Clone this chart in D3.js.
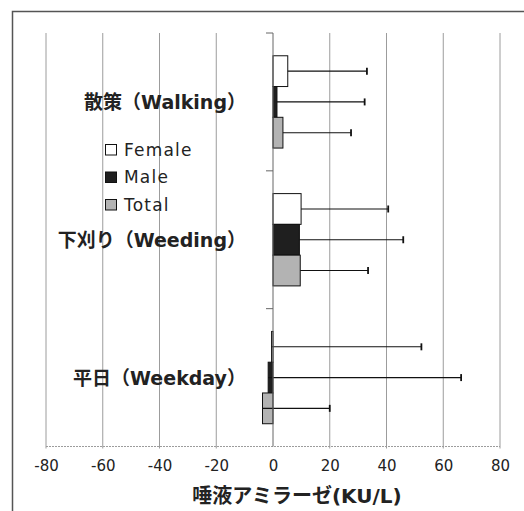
<!DOCTYPE html>
<html>
<head>
<meta charset="utf-8">
<script src="https://cdn.jsdelivr.net/npm/d3@7"></script>
<style>
  html, body { margin: 0; padding: 0; background: #fff; }
  svg { display: block; font-family: "DejaVu Sans", "Noto Sans CJK JP", sans-serif; }
</style>
</head>
<body>
<svg id="chart" width="524" height="511"></svg>
<script>
// Activity categories (top to bottom) and series
const categories = ["散策（Walking）", "下刈り（Weeding）", "平日（Weekday）"];
const seriesNames = ["Female", "Male", "Total"];

// Mean change in salivary amylase (KU/L) per category
const femaleMean = [5.2, 9.9, -0.5];
const maleMean   = [1.4, 9.3, -1.7];
const totalMean  = [3.5, 9.6, -3.7];

// Standard deviation (positive error bar)
const femaleSD = [27.9, 30.7, 52.8];
const maleSD   = [30.9, 36.6, 68.0];
const totalSD  = [24.0, 23.9, 23.7];

const xTicks = [-80, -60, -40, -20, 0, 20, 40, 60, 80];
const xTitle = "唾液アミラーゼ(KU/L)";

const seriesFill = { Female: "#ffffff", Male: "#1f1f1f", Total: "#b3b3b3" };

const means = { Female: femaleMean, Male: maleMean, Total: totalMean };
const sds = { Female: femaleSD, Male: maleSD, Total: totalSD };

const rows = [];
categories.forEach((c, i) => {
  seriesNames.forEach(s => rows.push({ cat: c, series: s, mean: means[s][i], sd: sds[s][i] }));
});

const svg = d3.select("#chart");

// outer chart frame
svg.append("rect")
  .attr("x", 12.5).attr("y", 11.5)
  .attr("width", 620).attr("height", 620)
  .attr("fill", "none").attr("stroke", "#555").attr("stroke-width", 1.5);

const plot = { left: 46, right: 500, top: 33, bottom: 446.5 };

const x = d3.scaleLinear().domain([-80, 80]).range([plot.left, plot.right]);
const y = d3.scaleBand().domain(categories).range([plot.top, plot.bottom]).paddingInner(0).paddingOuter(0);
const ySub = d3.scaleBand().domain(seriesNames).range([0, y.bandwidth()]).paddingInner(0).paddingOuter(0.74);

// vertical gridlines
svg.append("g").selectAll("line")
  .data(xTicks.filter(v => v !== 0))
  .join("line")
  .attr("x1", d => x(d)).attr("x2", d => x(d))
  .attr("y1", plot.top).attr("y2", plot.bottom + 2)
  .attr("stroke", "#9c9c9c").attr("stroke-width", 1);

// bottom axis line
svg.append("line")
  .attr("x1", plot.left).attr("x2", plot.right)
  .attr("y1", plot.bottom).attr("y2", plot.bottom)
  .attr("stroke", "#9c9c9c").attr("stroke-width", 1.2)
  .attr("stroke-dasharray", "2,1");

// x axis tick labels (plain hyphen for negatives)
const xAxis = svg.append("g")
  .attr("transform", `translate(0,${plot.bottom})`)
  .call(d3.axisBottom(x).tickValues(xTicks).tickSize(0).tickPadding(14).tickFormat(d => String(d)));
xAxis.select(".domain").remove();
xAxis.selectAll("text")
  .attr("font-size", 15)
  .attr("fill", "#222")
  .attr("font-family", "\"DejaVu Sans\", sans-serif");

// x axis title
svg.append("text")
  .attr("x", 297).attr("y", 503)
  .attr("text-anchor", "middle")
  .attr("font-size", 20).attr("font-weight", "bold").attr("fill", "#222")
  .text(xTitle);

// bars
const bars = svg.append("g");
bars.selectAll("rect")
  .data(rows)
  .join("rect")
  .attr("x", d => Math.min(x(0), x(d.mean)))
  .attr("width", d => Math.abs(x(d.mean) - x(0)))
  .attr("y", d => y(d.cat) + ySub(d.series))
  .attr("height", ySub.bandwidth())
  .attr("fill", d => seriesFill[d.series])
  .attr("stroke", "#111").attr("stroke-width", 1);

// error bars (plus direction with end cap)
const err = svg.append("g").attr("stroke", "#111");
err.selectAll("line.stem")
  .data(rows)
  .join("line")
  .attr("class", "stem")
  .attr("x1", d => x(d.mean)).attr("x2", d => x(d.mean + d.sd))
  .attr("y1", d => y(d.cat) + ySub(d.series) + ySub.bandwidth() / 2)
  .attr("y2", d => y(d.cat) + ySub(d.series) + ySub.bandwidth() / 2)
  .attr("stroke-width", 1.1);
err.selectAll("line.cap")
  .data(rows)
  .join("line")
  .attr("class", "cap")
  .attr("x1", d => x(d.mean + d.sd)).attr("x2", d => x(d.mean + d.sd))
  .attr("y1", d => y(d.cat) + ySub(d.series) + ySub.bandwidth() / 2 - 3.5)
  .attr("y2", d => y(d.cat) + ySub(d.series) + ySub.bandwidth() / 2 + 3.5)
  .attr("stroke-width", 1.8);

// vertical category axis at zero
svg.append("line")
  .attr("x1", x(0)).attr("x2", x(0))
  .attr("y1", plot.top).attr("y2", plot.bottom)
  .attr("stroke", "#666").attr("stroke-width", 1);
const bounds = categories.map(c => y(c));
svg.append("g").selectAll("line")
  .data(bounds)
  .join("line")
  .attr("x1", x(0) - 7).attr("x2", x(0))
  .attr("y1", d => d).attr("y2", d => d)
  .attr("stroke", "#666").attr("stroke-width", 1);

// category labels
svg.append("g").selectAll("text")
  .data(categories)
  .join("text")
  .attr("x", 246)
  .attr("y", d => y(d) + y.bandwidth() / 2)
  .attr("dy", "0.38em")
  .attr("text-anchor", "end")
  .attr("font-size", 19).attr("font-weight", "bold").attr("fill", "#222")
  .text(d => d);

// legend
const legend = svg.append("g").attr("transform", "translate(105,144)");
const li = legend.selectAll("g")
  .data(seriesNames)
  .join("g")
  .attr("transform", (d, i) => `translate(0,${i * 27.5})`);
li.append("rect")
  .attr("x", 0.5).attr("y", 0.5)
  .attr("width", 11).attr("height", 10.5)
  .attr("fill", d => seriesFill[d])
  .attr("stroke", "#111").attr("stroke-width", 1);
li.append("text")
  .attr("x", 19).attr("y", 11.5)
  .attr("font-size", 17).attr("fill", "#222")
  .attr("letter-spacing", 1.2)
  .text(d => d);
</script>
</body>
</html>
